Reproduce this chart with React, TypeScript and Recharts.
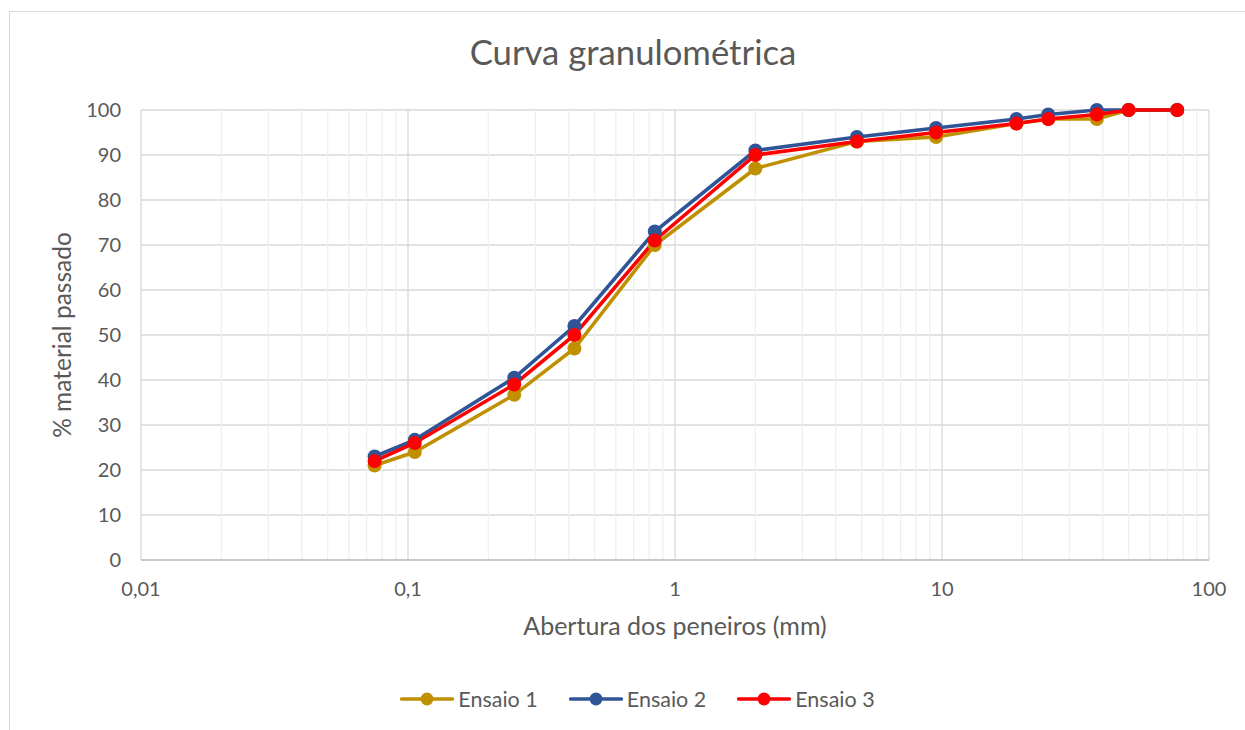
import React from "react";
import { LineChart, Line, XAxis, YAxis, CartesianGrid, ReferenceLine, Legend } from "recharts";

const sieves = [0.075, 0.106, 0.25, 0.42, 0.84, 2.0, 4.8, 9.5, 19, 25, 38, 50, 76];
const ensaio1 = [21, 24, 36.7, 47, 70, 87, 93, 94, 97, 98, 98, 100, 100];
const ensaio2 = [23, 26.7, 40.5, 52, 73, 91, 94, 96, 98, 99, 100, 100, 100];
const ensaio3 = [22, 26, 39, 50, 71, 90, 93, 95, 97, 98, 99, 100, 100];
const xTicks = [0.01, 0.1, 1, 10, 100];
const yTicks = [0, 10, 20, 30, 40, 50, 60, 70, 80, 90, 100];
const minorX = [0.02, 0.03, 0.04, 0.05, 0.06, 0.07, 0.08, 0.09, 0.2, 0.3, 0.4, 0.5, 0.6, 0.7, 0.8, 0.9, 2, 3, 4, 5, 6, 7, 8, 9, 20, 30, 40, 50, 60, 70, 80, 90];

const seriesNames = ["Ensaio 1", "Ensaio 2", "Ensaio 3"];
const seriesColors = ["#BF9000", "#2F5597", "#FF0000"];
const seriesValues = [ensaio1, ensaio2, ensaio3];

const FONT = "Lato, 'Open Sans', sans-serif";

const toData = (vals: number[]) => sieves.map((x, i) => ({ x, y: vals[i] }));

const LegendContent = () => (
  <div style={{ display: "flex", justifyContent: "center", alignItems: "center", fontFamily: FONT, fontSize: 21.5, color: "#595959", paddingLeft: 30 }}>
    {seriesNames.map((n, i) => (
      <div key={n} style={{ display: "flex", alignItems: "center", marginRight: i < 2 ? 31 : 0 }}>
        <svg width={54} height={16} style={{ marginRight: 4 }}>
          <line x1={1.5} y1={8} x2={52.5} y2={8} stroke={seriesColors[i]} strokeWidth={3.4} strokeLinecap="round" />
          <circle cx={27} cy={8} r={6.5} fill={seriesColors[i]} />
        </svg>
        <span>{n}</span>
      </div>
    ))}
  </div>
);

export default function App() {
  return (
    <div style={{ position: "absolute", left: 0, top: 0, width: 1245, height: 730, background: "#fff", overflow: "hidden" }}>
      <div style={{ position: "absolute", left: 9, top: 11, width: 1250, height: 740, border: "1px solid #d9d9d9", boxSizing: "border-box" }} />
      <div style={{ position: "absolute", left: 0, top: 31, width: 1266, textAlign: "center", fontFamily: FONT, fontSize: 34.7, color: "#595959" }}>
        Curva granulométrica
      </div>
      <LineChart width={1245} height={730} margin={{ top: 110, right: 36, bottom: 110, left: 81 }} style={{ position: "absolute", left: 0, top: 0 }}>
        <CartesianGrid stroke="#d9d9d9" strokeWidth={1.3} />
        {minorX.map((v) => (
          <ReferenceLine key={v} x={v} stroke="#efefef" strokeWidth={1.3} />
        ))}
        <XAxis
          type="number"
          dataKey="x"
          scale="log"
          domain={[0.01, 100]}
          ticks={xTicks}
          allowDataOverflow
          tickFormatter={(v: number) => String(v).replace(".", ",")}
          tick={{ fill: "#595959", fontSize: 20, fontFamily: FONT }}
          tickLine={false}
          axisLine={{ stroke: "#bfbfbf", strokeWidth: 1.3 }}
          tickMargin={16}
          height={30}
          label={{ value: "Abertura dos peneiros (mm)", position: "insideBottom", offset: -45, fill: "#595959", fontSize: 25, fontFamily: FONT }}
        />
        <YAxis
          type="number"
          domain={[0, 100]}
          ticks={yTicks}
          tick={{ fill: "#595959", fontSize: 20, fontFamily: FONT }}
          tickLine={false}
          axisLine={false}
          tickMargin={14}
          width={60}
          label={{ value: "% material passado", angle: -90, position: "center", dx: -49, fill: "#595959", fontSize: 24.5, fontFamily: FONT }}
        />
        <Legend verticalAlign="bottom" content={<LegendContent />} wrapperStyle={{ position: "absolute", left: 0, top: 686, width: 1245, height: 30 }} />
        {seriesValues.map((vals, i) => (
          <Line
            key={seriesNames[i]}
            name={seriesNames[i]}
            data={toData(vals)}
            dataKey="y"
            stroke={seriesColors[i]}
            strokeWidth={3.6}
            dot={{ r: 7, fill: seriesColors[i], stroke: seriesColors[i], strokeWidth: 0 }}
            activeDot={false}
            isAnimationActive={false}
          />
        ))}
      </LineChart>
    </div>
  );
}
